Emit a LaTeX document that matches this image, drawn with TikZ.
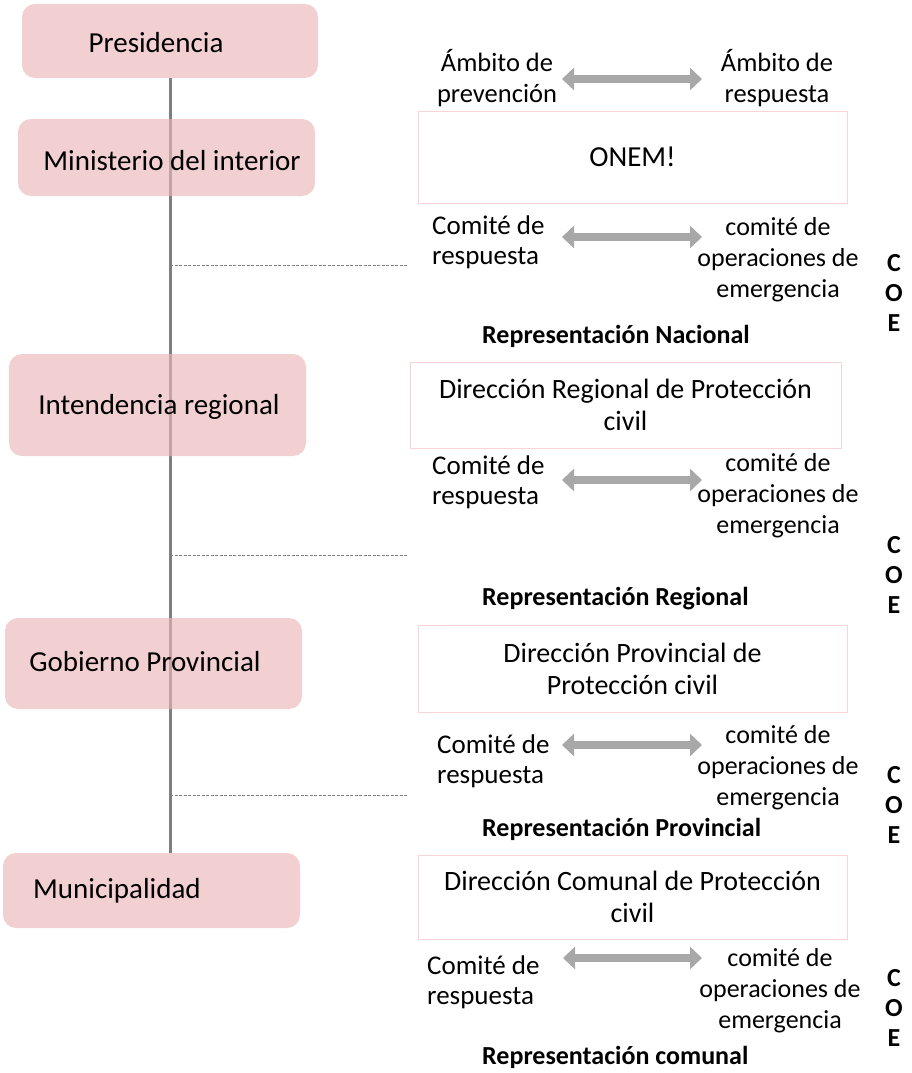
\documentclass[tikz,border=0pt]{standalone}
\usepackage{fontspec}
\setmainfont{Carlito}
\usetikzlibrary{arrows.meta, backgrounds}

\definecolor{boxpink}{RGB}{235,183,186}
\definecolor{edgepink}{RGB}{247,212,215}
\definecolor{trunkgray}{RGB}{127,127,127}
\definecolor{arrowgray}{RGB}{168,168,168}

\begin{document}
\begin{tikzpicture}[x=1pt, y=-1pt, font=\fontsize{29}{31}\selectfont,
    org/.style={rounded corners=13pt, fill=boxpink, fill opacity=0.65, inner sep=0pt},
    dir/.style={draw=edgepink, line width=1pt, fill=white, inner sep=0pt, align=center,
      font=\fontsize{28}{32}\selectfont},
    txt/.style={inner sep=0pt, align=center},
    side/.style={inner sep=0pt, align=center, font=\fontsize{26.5}{31}\selectfont},
    lft/.style={inner sep=0pt, align=left, anchor=west, font=\fontsize{27}{30}\selectfont},
    rgt/.style={inner sep=0pt, align=center, font=\fontsize{26}{31}\selectfont},
    rep/.style={inner sep=0pt, anchor=west, font=\fontsize{26}{31}\selectfont\bfseries},
    coe/.style={inner sep=0pt, align=center, font=\fontsize{26}{30}\selectfont\bfseries},
    both/.style={draw=arrowgray, line width=8pt, {Triangle[length=12pt,width=22pt]}-{Triangle[length=12pt,width=22pt]}},
    link/.style={draw=trunkgray, line width=1pt, dash pattern=on 3pt off 1.5pt}]
      \useasboundingbox (0,0) rectangle (912,1073);

      % left column
      \node[org, minimum width=296pt, minimum height=74pt] (0) at (170,41) {};
      \node[org, minimum width=297pt, minimum height=77pt] (1) at (166.5,157.5) {};
      \node[org, minimum width=297pt, minimum height=102pt] (2) at (157.5,405) {};
      \node[org, minimum width=297pt, minimum height=91pt] (3) at (153.5,663.5) {};
      \node[org, minimum width=297pt, minimum height=75pt] (4) at (151.5,890.5) {};
      \node[txt] (0t) at (156,43) {Presidencia};
      \node[txt] (1t) at (172,161) {Ministerio del interior};
      \node[txt] (2t) at (159,407) {Intendencia regional};
      \node[txt] (3t) at (145,662) {Gobierno Provincial};
      \node[txt] (4t) at (117,891) {Municipalidad};
      \begin{scope}[on background layer]
        \draw[draw=trunkgray, line width=3pt] (0.south) -- (0.south |- 4.north);
      \end{scope}

      % right column
      \node[dir, minimum width=429pt, minimum height=92pt, font=\fontsize{29}{31}\selectfont] (a) at (632.5,157) {ONEM!};
      \node[dir, minimum width=431pt, minimum height=86pt] (b) at (625.5,405) {Dirección Regional de Protección\\civil};
      \node[dir, minimum width=429pt, minimum height=87pt] (c) at (632.5,668.5) {Dirección Provincial de\\Protección civil};
      \node[dir, minimum width=429pt, minimum height=84pt] (d) at (632.5,897) {Dirección Comunal de Protección\\civil};

      \node[side] (p0) at (497,78) {Ámbito de\\prevención};
      \node[side] (q0) at (777,78) {Ámbito de\\respuesta};
      \coordinate (l0) at (562,79);
      \coordinate (r0) at (702,79);
      \draw[both] (l0) -- (r0);

      \node[lft] (p1) at (432,242) {Comité de\\respuesta};
      \node[rgt] (q1) at (778,260) {comité de\\operaciones de\\emergencia};
      \node[coe] (k1) at (894,293) {C\\O\\E};
      \node[rep] (n1) at (482,336) {Representación Nacional};
      \coordinate (l1) at (562,237);
      \coordinate (r1) at (702,237);
      \draw[both] (l1) -- (r1);

      \node[lft] (p2) at (432,482) {Comité de\\respuesta};
      \node[rgt] (q2) at (778,496) {comité de\\operaciones de\\emergencia};
      \node[coe] (k2) at (894,575) {C\\O\\E};
      \node[rep] (n2) at (482,599) {Representación Regional};
      \coordinate (l2) at (562,480);
      \coordinate (r2) at (702,480);
      \draw[both] (l2) -- (r2);

      \node[lft] (p3) at (437,761) {Comité de\\respuesta};
      \node[rgt] (q3) at (778,768) {comité de\\operaciones de\\emergencia};
      \node[coe] (k3) at (894,805) {C\\O\\E};
      \node[rep] (n3) at (482,829) {Representación Provincial};
      \coordinate (l3) at (562,745);
      \coordinate (r3) at (702,745);
      \draw[both] (l3) -- (r3);

      \node[lft] (p4) at (427,982) {Comité de\\respuesta};
      \node[rgt] (q4) at (780,991) {comité de\\operaciones de\\emergencia};
      \node[coe] (k4) at (894,1008) {C\\O\\E};
      \node[rep] (n4) at (482,1057) {Representación comunal};
      \coordinate (l4) at (563,958);
      \coordinate (r4) at (702,958);
      \draw[both] (l4) -- (r4);

      % dashed ties from the trunk
      \coordinate (t1) at (170,265);
      \coordinate (e1) at (407,265);
      \coordinate (t2) at (170,555);
      \coordinate (e2) at (407,555);
      \coordinate (t3) at (170,795);
      \coordinate (e3) at (408,795);
      \draw[link] (t1) -- (e1);
      \draw[link] (t2) -- (e2);
      \draw[link] (t3) -- (e3);
    \end{tikzpicture}
\end{document}
